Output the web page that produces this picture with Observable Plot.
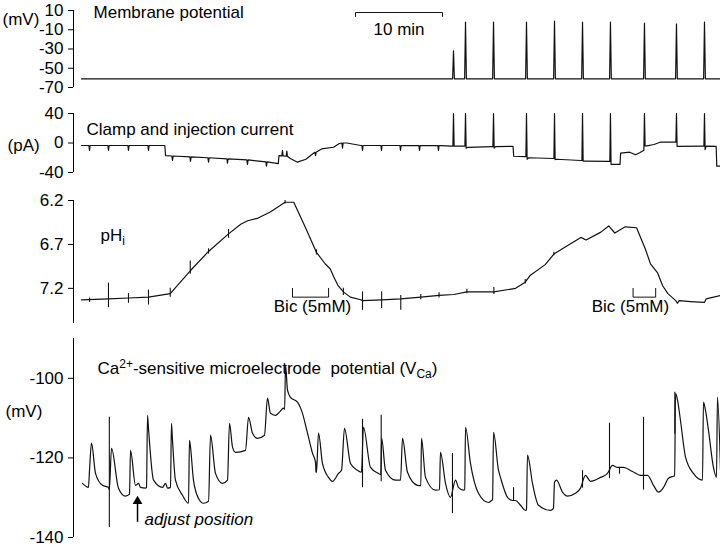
<!DOCTYPE html>
<html><head><meta charset="utf-8">
<script src="https://cdn.jsdelivr.net/npm/d3@7"></script>
<script src="https://cdn.jsdelivr.net/npm/@observablehq/plot@0.6"></script>
<style>
body{margin:0;background:#fff;}
#chart{width:720px;height:546px;}
#chart svg{display:block;}
</style></head><body><div id="chart"></div>
<script>
const FONT = "'Liberation Sans', Arial, Helvetica, sans-serif";
const X_DOMAIN = [-0.92, 73.45]; // minutes
const INK = "#111";
const FS = 17;

// ---- Panel 1: membrane potential (mV) ----
const mpTicks = [10, -10, -30, -50, -70];
const mpBaseline = -61;
const mpSpikeTimes = [42.76, 44.14, 47.36, 51.15, 54.37, 57.59, 60.80, 64.71, 68.39, 71.61];
const mpSpikePeaks = [-32, -2, -2, -2, -1, -2, -2, -3, -4, -2];
const scaleBar = [[31.5, 3.8], [31.5, 7.9], [41.5, 7.9], [41.5, 3.8]];
const scaleBarLabel = "10 min";

// ---- Panel 2: clamp and injection current (pA) ----
const curTicks = [40, 0, -40];
const currentPath = [[0,-3.4],[9.58,-3.4],[9.66,-17],[22.62,-28],[22.7,-17],[24.0,-21],[24.83,-26],[25.8,-22],[26.7,-13.5],[27.6,-8],[28.97,-5.8],[29.6,-1],[30.5,0],[32.1,-3.4],[41.3,-3.6],[42.5,-4.3],[44.0,-4.3],[44.4,-5.8],[47.2,-5.0],[47.6,-5.0],[49.6,-4.5],[49.68,-18],[51.0,-18.5],[51.4,-20],[54.2,-21],[54.6,-22],[57.4,-23.7],[57.8,-24.5],[60.6,-25],[61.0,-29],[61.9,-29],[61.97,-13.8],[63.0,-12.5],[63.7,-16],[64.2,-13],[64.55,-10.5],[65.0,-4],[65.8,-2],[66.5,1.1],[68.25,1.1],[68.6,-4.7],[71.45,-4.3],[71.8,-4.3],[72.95,-4.7],[73.02,-31.4],[73.45,-31.4]];
const currentNotches = [[0.92,-3.4,-10],[3.10,-3.4,-10],[5.40,-3.4,-10],[7.70,-3.4,-10],[10.46,-17.6,-23.6],[12.53,-18.8,-24.8],[14.60,-20,-26],[16.78,-21.4,-27.4],[19.08,-23,-29],[21.26,-25.5,-31.5],[23.1,-17.5,-10],[23.6,-18,-11],[26.9,-12.5,-17],[30.0,0,-7],[32.30,-3.4,-10],[34.48,-3.4,-10],[36.67,-3.4,-10],[38.85,-3.5,-10],[41.03,-3.6,-10]];
const currentSpikes = [[42.76,-4.3,40,-4.3],[44.14,-4.3,40,-7],[47.36,-5.0,40,-7],[51.15,-18.5,40,-22],[54.37,-21,40,-22.5],[57.59,-23.7,40,-24.5],[60.80,-25,40,-29],[64.71,-10,40,-4],[68.39,1.1,40,-4.7],[71.61,-4.3,40,-9]];

// ---- Panel 3: pHi ----
const phTicks = [6.2, 6.7, 7.2];
const phTrace = [[0,7.33],[3.1,7.32],[5.4,7.31],[7.7,7.30],[10.2,7.26],[12.5,7.0],[14.6,6.78],[16.9,6.58],[18.3,6.47],[19.1,6.43],[20.3,6.40],[21.7,6.33],[23.4,6.22],[24.4,6.22],[25.7,6.5],[27.0,6.79],[28.0,6.92],[28.6,6.98],[29.0,7.07],[29.5,7.17],[30.1,7.24],[30.9,7.30],[32.1,7.33],[32.3,7.34],[34.5,7.33],[36.7,7.32],[39.0,7.30],[41.1,7.28],[42.8,7.27],[44.3,7.24],[47.4,7.24],[49.9,7.20],[51.0,7.13],[51.6,7.05],[53.3,6.93],[54.3,6.81],[55.6,6.73],[57.4,6.62],[58.0,6.65],[59.7,6.56],[60.6,6.49],[61.3,6.57],[62.5,6.50],[63.8,6.51],[64.8,6.75],[65.4,6.92],[66.2,7.02],[66.8,7.17],[67.4,7.26],[68.3,7.34],[68.5,7.37],[68.7,7.34],[70.0,7.35],[71.6,7.36],[71.8,7.32],[73.45,7.28]];
const phArtifacts = [[0.92,7.31,7.36],[3.10,7.14,7.42],[5.40,7.26,7.37],[7.70,7.22,7.39],[10.2,7.20,7.30],[12.5,6.89,7.04],[14.6,6.75,6.81],[16.9,6.53,6.63],[23.4,6.20,6.24],[27.0,6.76,6.82],[30.1,7.20,7.28],[32.3,7.24,7.45],[34.5,7.24,7.43],[36.7,7.28,7.45],[39.0,7.27,7.33],[41.1,7.25,7.31],[44.3,7.21,7.26],[47.4,7.19,7.27],[51.0,7.10,7.15],[54.3,6.79,6.83]];
const bicPeriods = [[24.25, 28.4], [63.4, 66.0]];
const bicLabelX = [26.55, 63.1];
const bicLabel = "Bic (5mM)";

// ---- Panel 4: Ca2+-sensitive microelectrode potential (mV) ----
const caTicks = [-100, -120, -140];
const caTrace = [[0.11,-126.4],[0.80,-127.4],[0.92,-123.1],[1.15,-116.3],[1.61,-123.9],[2.41,-126.9],[3.10,-127.4],[3.2,-128.0],[3.45,-117.6],[4.25,-127.6],[5.06,-129.6],[5.52,-129.1],[5.63,-118.1],[6.21,-126.9],[6.55,-126.4],[6.78,-127.4],[7.36,-127.6],[7.47,-127.4],[7.59,-109.3],[7.70,-112.6],[8.28,-125.6],[9.31,-127.4],[9.66,-126.4],[9.89,-127.6],[10.23,-127.4],[10.34,-111.3],[10.46,-115.6],[10.80,-125.6],[11.61,-129.4],[12.30,-131.4],[12.41,-115.6],[12.53,-117.3],[12.87,-125.6],[13.45,-130.2],[14.02,-131.4],[14.60,-130.9],[14.83,-114.3],[15.40,-123.9],[16.21,-126.4],[16.78,-125.6],[17.01,-111.3],[17.36,-117.3],[17.70,-118.6],[18.85,-118.1],[19.20,-109.8],[19.66,-113.8],[20.23,-115.1],[21.03,-114.3],[21.38,-105.0],[21.72,-108.8],[22.30,-109.3],[22.76,-108.5],[23.22,-107.5],[23.35,-107.8],[23.45,-96.7],[23.68,-103.0],[24.02,-104.8],[24.83,-106.0],[25.40,-108.8],[25.98,-113.8],[26.55,-118.8],[26.90,-121.1],[27.01,-123.6],[27.24,-113.8],[27.70,-121.4],[28.39,-124.9],[28.85,-125.9],[29.54,-123.9],[29.89,-123.1],[30.23,-112.6],[30.92,-121.4],[31.72,-123.1],[32.18,-123.6],[32.41,-112.3],[33.22,-122.4],[34.14,-123.9],[34.40,-124.2],[34.50,-115.1],[34.94,-123.1],[36.09,-125.6],[36.67,-125.6],[36.90,-115.1],[37.47,-123.6],[38.62,-126.9],[39.00,-127.0],[39.08,-115.1],[39.54,-124.9],[40.69,-128.1],[41.15,-128.0],[41.26,-118.6],[41.84,-126.4],[42.41,-129.9],[42.99,-125.6],[43.33,-127.4],[43.91,-128.1],[44.05,-128.0],[44.14,-112.3],[44.71,-121.4],[45.63,-128.9],[46.78,-131.2],[47.13,-130.7],[47.25,-130.5],[47.36,-113.6],[47.93,-123.1],[48.16,-124.9],[48.97,-129.9],[49.54,-130.7],[49.89,-130.7],[50.46,-131.9],[51.03,-133.2],[51.15,-133.0],[51.26,-119.3],[51.84,-126.4],[52.53,-131.9],[53.91,-133.2],[54.25,-132.7],[54.37,-126.1],[54.60,-125.6],[55.29,-128.6],[55.86,-129.6],[56.78,-128.9],[57.36,-127.6],[57.93,-124.4],[58.51,-125.9],[59.66,-124.9],[60.46,-123.9],[61.03,-121.9],[61.61,-122.4],[62.30,-122.4],[63.33,-123.4],[64.25,-124.4],[65.06,-124.4],[65.75,-126.9],[66.32,-128.6],[66.90,-127.4],[67.47,-125.1],[68.05,-124.6],[68.18,-124.5],[68.28,-103.8],[68.51,-105.5],[68.85,-110.6],[69.43,-119.8],[70.34,-123.9],[71.38,-125.6],[71.49,-106.0],[71.72,-108.0],[72.07,-113.1],[72.64,-122.4],[72.99,-124.9],[73.10,-104.8],[73.45,-123.1]];
const caArtifacts = [[3.2,-109.8,-137.5],[26.95,-121.0,-123.8],[32.3,-110.3,-127.5],[34.45,-109.3,-126.0],[42.64,-118.9,-134.0],[49.66,-127.5,-130.7],[57.59,-123.2,-127.6],[60.69,-111.3,-125.2],[61.84,-122.4,-124.1],[64.60,-109.8,-128.1],[68.2,-103.5,-114]];
const adjustArrow = {t: 6.44, from: -136.2, to: -131.2};

// ---- labels ----
const labels = {
  mp: "Membrane potential", mpUnit: "(mV)",
  cur: "Clamp and injection current", curUnit: "(pA)",
  ph: "pHi",
  ca: "Ca2+-sensitive microelectrode  potential (VCa)", caUnit: "(mV)",
  adjust: "adjust position"
};

// build helpers
const HW = 0.07;
function withEvents(path, notches, spikes) {
  const pts = path.map(d => [d[0], d[1]]);
  for (const [t, b, tip] of notches) pts.push([t - HW, b], [t, tip], [t + HW, b]);
  for (const [t, b, p, a] of spikes) pts.push([t - HW, b], [t, p], [t + HW, a]);
  return pts.sort((a, b) => a[0] - b[0]);
}
const mpTrace = [[0, mpBaseline]];
mpSpikeTimes.forEach((t, i) => mpTrace.push([t - 0.1, mpBaseline], [t, mpSpikePeaks[i]], [t + 0.1, mpBaseline]));
mpTrace.push([X_DOMAIN[1], mpBaseline]);
const curTrace = withEvents(currentPath, currentNotches, currentSpikes);

const lineOpts = {x: d => d[0], y: d => d[1], stroke: INK, strokeWidth: 1.2};
const fmt = d => String(d);

function panel({height, marginTop, marginBottom, domain, reverse, ticks, tickFormat, marks}) {
  return Plot.plot({
    width: 720, height, marginLeft: 73, marginRight: 0, marginTop, marginBottom,
    x: {domain: X_DOMAIN, axis: null},
    y: {domain, reverse, ticks, tickSize: 5, tickPadding: 5, tickFormat, label: null},
    style: {fontFamily: FONT, fontSize: FS + "px", background: "white", color: "#000", overflow: "visible"},
    marks: [Plot.ruleX([X_DOMAIN[0]], {stroke: "#000", strokeWidth: 1}), ...marks]
  });
}
const txt = (t, v, s, o = {}) => Plot.text([s], {x: () => t, y: () => v, text: d => d, textAnchor: "start", fill: "#000", fontSize: FS, ...o});

const p1 = panel({height: 95, marginTop: 10, marginBottom: 8, domain: [-70, 10], ticks: mpTicks, tickFormat: fmt, marks: [
  Plot.line(mpTrace, lineOpts),
  Plot.line(scaleBar, {x: d => d[0], y: d => d[1], stroke: INK, strokeWidth: 1}),
  txt(36.5, -9.6, scaleBarLabel, {textAnchor: "middle"}),
  txt(1.38, 7.5, labels.mp),
  txt(-9.08, 0.8, labels.mpUnit)
]});

const p2 = panel({height: 90, marginTop: 18, marginBottom: 13, domain: [-40, 40], ticks: curTicks, tickFormat: fmt, marks: [
  Plot.line(curTrace, lineOpts),
  txt(0.57, 18, labels.cur),
  txt(-8.5, -3.4, labels.curUnit)
]});

const p3 = panel({height: 145, marginTop: 15, marginBottom: 7, domain: [6.2, 7.6], reverse: true, ticks: phTicks, tickFormat: d => d.toFixed(1), marks: [
  Plot.line(phTrace, lineOpts),
  Plot.ruleX(phArtifacts, {x: d => d[0], y1: d => d[1], y2: d => d[2], stroke: INK, strokeWidth: 1.1}),
  ...bicPeriods.map(([a, b]) => Plot.line([[a, 7.2], [a, 7.3], [b, 7.3], [b, 7.2]], {x: d => d[0], y: d => d[1], stroke: INK, strokeWidth: 1})),
  ...bicLabelX.map(t => txt(t, 7.41, bicLabel, {textAnchor: "middle"})),
  txt(2.18, 6.6, labels.ph)
]});

const p4 = panel({height: 216, marginTop: 8, marginBottom: 9, domain: [-140, -90], ticks: caTicks, tickFormat: fmt, marks: [
  Plot.line(caTrace, {...lineOpts, curve: "monotone-x"}),
  Plot.ruleX(caArtifacts, {x: d => d[0], y1: d => d[1], y2: d => d[2], stroke: INK, strokeWidth: 1.1}),
  Plot.ruleX([adjustArrow], {x: d => d.t, y1: d => d.from, y2: d => d.to, stroke: "#000", strokeWidth: 1.5}),
  Plot.dot([adjustArrow], {x: d => d.t, y: d => d.to + 0.3, symbol: "triangle", r: 3.6, fill: "#000", stroke: "none"}),
  txt(7.24, -135.4, labels.adjust, {fontStyle: "italic"}),
  txt(1.84, -97.5, labels.ca),
  txt(-8.74, -108.4, labels.caUnit)
]});

function rich(svg, key, parts) {
  d3.select(svg).selectAll("text").filter(function () { return this.textContent === key; }).each(function () {
    const el = d3.select(this).text(null).style("white-space", "pre");
    let shift = 0;
    for (const [s, kind] of parts) {
      const target = kind === "sup" ? -6 : kind === "sub" ? 4 : 0;
      const ts = el.append("tspan").attr("dy", target - shift).text(s);
      if (kind) ts.attr("font-size", "12px");
      shift = target;
    }
  });
}
rich(p3, labels.ph, [["pH"], ["i", "sub"]]);
rich(p4, labels.ca, [["Ca"], ["2+", "sup"], ["-sensitive microelectrode  potential (V"], ["Ca", "sub"], [")"]]);

const root = document.getElementById("chart");
[p1, p2, p3, p4].forEach(p => root.appendChild(p));
</script>
</body></html>
